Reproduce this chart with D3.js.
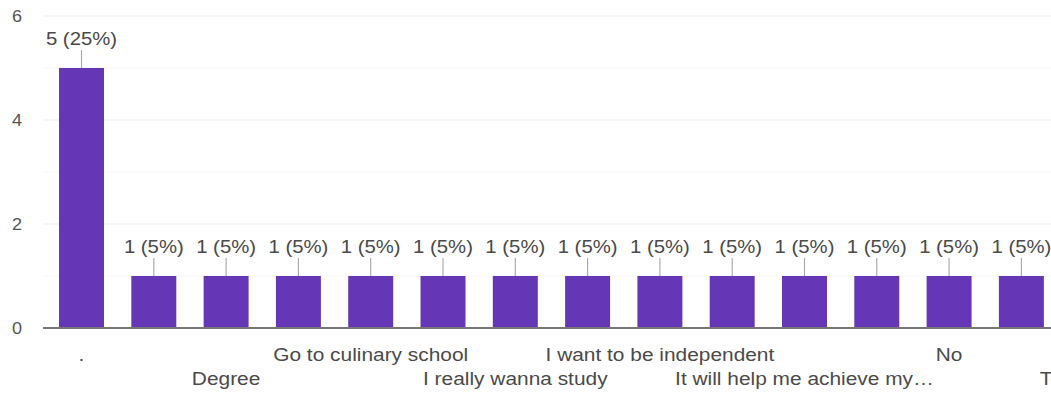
<!DOCTYPE html>
<html>
<head>
<meta charset="utf-8">
<script src="https://cdn.jsdelivr.net/npm/d3@7"></script>
<style>
  html, body { margin: 0; padding: 0; background: #fff; }
  svg { display: block; }
  text { font-family: "Liberation Sans", Arial, sans-serif; }
</style>
</head>
<body>
<div id="chart"></div>
<script>
// Responses per answer (16 answers, 20 responses in total)
const labels = [".", "", "Degree", "", "Go to culinary school", "",
  "I really wanna study", "", "I want to be independent", "",
  "It will help me achieve my\u2026", "", "No", "", "To get a job", ""];
const counts = [5, 1, 1, 1, 1, 1, 1, 1, 1, 1, 1, 1, 1, 1, 1, 1];
const total = 20;
const yTicks = [0, 2, 4, 6];
const yMinor = [1, 3, 5];

const W = 1051, H = 394;
const sx = 1.13;               // horizontal stretch of the drawing
const iw = W / sx;

const svg = d3.select("#chart").append("svg")
  .attr("width", W).attr("height", H)
  .attr("viewBox", `0 0 ${iw} ${H}`)
  .attr("preserveAspectRatio", "none");

const x = d3.scaleBand()
  .domain(d3.range(counts.length))
  .range([31.7 / sx, 1215.8 / sx])
  .padding(0.378);

const y = d3.scaleLinear().domain([0, 6]).range([328, 16]);

const gridLeft = 43 / sx;

// minor and major gridlines
svg.append("g").selectAll("line").data(yMinor).join("line")
  .attr("x1", gridLeft).attr("x2", iw)
  .attr("y1", d => y(d)).attr("y2", d => y(d))
  .attr("stroke", "#f6f6f6").attr("stroke-width", 1);
svg.append("g").selectAll("line").data(yTicks.filter(d => d > 0)).join("line")
  .attr("x1", gridLeft).attr("x2", iw)
  .attr("y1", d => y(d)).attr("y2", d => y(d))
  .attr("stroke", "#ececec").attr("stroke-width", 1);

// y axis tick labels
const yAxis = d3.axisLeft(y).tickValues(yTicks).tickFormat(d3.format("d"))
  .tickSize(0).tickPadding(0);
const gy = svg.append("g").attr("transform", `translate(${22 / sx},0)`).call(yAxis);
gy.select(".domain").remove();
gy.selectAll("text")
  .attr("fill", "#555").attr("font-size", 16)
  .attr("font-family", "'Liberation Sans', Arial, sans-serif");

// bars
svg.append("g").selectAll("rect").data(counts).join("rect")
  .attr("x", (d, i) => x(i))
  .attr("width", x.bandwidth())
  .attr("y", d => y(d))
  .attr("height", d => y(0) - y(d))
  .attr("fill", "#6536b6");

// leader lines and value labels
const lab = svg.append("g");
lab.selectAll("line").data(counts).join("line")
  .attr("x1", (d, i) => x(i) + x.bandwidth() / 2)
  .attr("x2", (d, i) => x(i) + x.bandwidth() / 2)
  .attr("y1", d => y(d) - 18).attr("y2", d => y(d))
  .attr("stroke", "#a8a8a8").attr("stroke-width", 1);
lab.selectAll("text").data(counts).join("text")
  .attr("x", (d, i) => x(i) + x.bandwidth() / 2)
  .attr("y", d => y(d) - 23)
  .attr("text-anchor", "middle")
  .attr("font-size", 18)
  .attr("fill", "#4a4a4a")
  .text(d => `${d} (${Math.round(d / total * 100)}%)`);

// baseline
svg.append("line")
  .attr("x1", gridLeft).attr("x2", iw)
  .attr("y1", y(0)).attr("y2", y(0))
  .attr("stroke", "#777").attr("stroke-width", 2);

// category labels, alternating between two rows
const xAxis = d3.axisBottom(x).tickSize(0).tickFormat(i => labels[i]);
const gx = svg.append("g").attr("transform", `translate(0,${y(0)})`).call(xAxis);
gx.select(".domain").remove();
gx.selectAll("text")
  .attr("fill", "#4a4a4a").attr("font-size", 18.5)
  .attr("font-family", "'Liberation Sans', Arial, sans-serif")
  .attr("dy", 0)
  .attr("y", i => (i % 4 === 0 ? 33 : 57));
</script>
</body>
</html>
